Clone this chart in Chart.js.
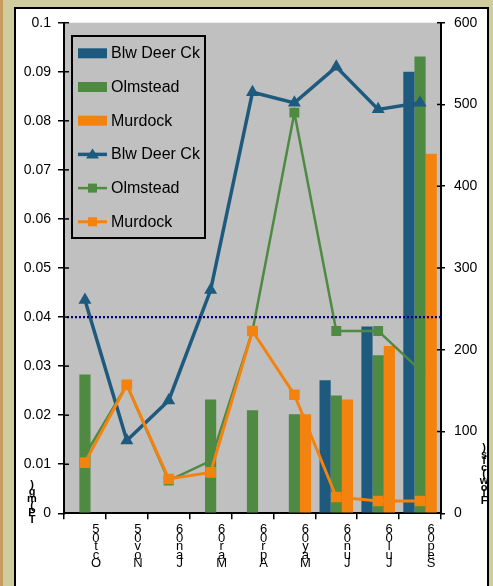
<!DOCTYPE html>
<html><head><meta charset="utf-8">
<script src="https://cdn.jsdelivr.net/npm/chart.js@4.4.0/dist/chart.umd.min.js"></script>
<style>html,body{margin:0;padding:0;background:#CFCC9E;} #wrap{width:493px;height:586px;position:relative;}</style>
</head><body><div id="wrap"><canvas id="c" width="493" height="586"></canvas></div>
<script>
const categories = ['Oct05','Nov05','Jan06','Mar06','Apr06','May06','Jun06','Jul06','Sep06'];
const seriesNames = ['Blw Deer Ck','Olmstead','Murdock'];
// TP bars (left axis, mg/L)
const tpBlwDeerCk = [null,null,null,null,null,null,0.0271,0.0381,0.0900];
const tpOlmstead  = [0.0283,null,null,0.0232,0.0210,0.0202,0.0240,0.0322,0.0931];
const tpMurdock   = [null,null,null,null,null,0.0202,0.0232,0.0341,0.0733];
// Flow lines (right axis, cfs)
const flowBlwDeerCk = [261,89,138,273,515,502,546,494,502];
const flowOlmstead  = [71,157,40,64,223,490,223,223,175];
const flowMurdock   = [62,157,42,50,223,145,20,15,15];
const tpStandard = 0.04;
const leftTitle = 'TP (mg)';
const rightTitle = 'Flow (cfs)';
const leftTicks = {min:0, max:0.1, step:0.01};
const rightTicks = {min:0, max:600, step:100};

const C_BLUE='#1E5A7E', C_GREEN='#4E8A42', C_ORANGE='#F4820E';
const FONT='"Liberation Sans", Arial, sans-serif';

const framePlugin = {
  id:'frame',
  beforeDraw(chart){
    const ctx=chart.ctx, a=chart.chartArea;
    ctx.save();
    ctx.fillStyle='#CFCC9E'; ctx.fillRect(0,0,493,586);
    ctx.fillStyle='#C89B5E'; ctx.fillRect(0,0,3,586);
    ctx.fillStyle='#FFFFFF'; ctx.fillRect(15,8,473,600);
    ctx.strokeStyle='#000'; ctx.lineWidth=2; ctx.strokeRect(15,8,473,600);
    ctx.fillStyle='#C0C0C0'; ctx.fillRect(a.left,a.top,a.right-a.left,a.bottom-a.top);
    ctx.restore();
  },
  afterDatasetsDraw(chart){
    const ctx=chart.ctx, a=chart.chartArea, y=chart.scales.y;
    const py=y.getPixelForValue(tpStandard);
    ctx.save();
    ctx.strokeStyle='#000080'; ctx.lineWidth=2.2; ctx.setLineDash([2,2]);
    ctx.beginPath(); ctx.moveTo(a.left-1,py); ctx.lineTo(a.right+2,py); ctx.stroke();
    ctx.setLineDash([]);
    // inner tick marks
    ctx.strokeStyle='#000'; ctx.lineWidth=1.5;
    y.ticks.forEach((t,i)=>{const p=y.getPixelForTick(i); ctx.beginPath(); ctx.moveTo(a.left,p); ctx.lineTo(a.left+5,p); ctx.stroke();});
    const y1=chart.scales.y1;
    y1.ticks.forEach((t,i)=>{const p=y1.getPixelForTick(i); ctx.beginPath(); ctx.moveTo(a.right,p); ctx.lineTo(a.right-4,p); ctx.stroke();});
    // legend
    const lx=72, ly=36, lw=133, lh=202;
    ctx.fillStyle='#C0C0C0'; ctx.fillRect(lx,ly,lw,lh);
    ctx.strokeStyle='#000'; ctx.lineWidth=2; ctx.strokeRect(lx,ly,lw,lh);
    const order=[0,1,2,3,4,5];
    ctx.font='16px '+FONT; ctx.textBaseline='middle'; ctx.textAlign='left';
    order.forEach((di,k)=>{
      const ds=chart.data.datasets[di];
      const cy=53.3+k*33.7;
      if(ds.type==='bar'){
        ctx.fillStyle=ds.backgroundColor; ctx.fillRect(78,cy-5,29,10);
      } else {
        ctx.strokeStyle=ds.borderColor; ctx.lineWidth=ds.borderWidth;
        ctx.beginPath(); ctx.moveTo(78,cy); ctx.lineTo(107,cy); ctx.stroke();
        ctx.fillStyle=ds.pointBackgroundColor;
        if(ds.pointStyle==='triangle'){
          ctx.beginPath(); ctx.moveTo(92.5,cy-6); ctx.lineTo(99,cy+4); ctx.lineTo(86,cy+4); ctx.closePath(); ctx.fill();
        } else { ctx.fillRect(88,cy-4.5,9,9); }
      }
      ctx.fillStyle='#000'; ctx.fillText(ds.label,111,cy+0.5);
    });
    // axis titles (stacked characters)
    ctx.font='bold 11px '+FONT; ctx.textAlign='center'; ctx.fillStyle='#000';
    const lc=leftTitle.replace(/ /g,'').split('').reverse();
    lc.forEach((ch,i)=>ctx.fillText(ch,32,485+i*7));
    const rc=rightTitle.replace(/ /g,'').split('').reverse();
    rc.forEach((ch,i)=>ctx.fillText(ch,484,448+i*6.6));
    ctx.restore();
  }
};

const barBase={type:'bar', yAxisID:'y', categoryPercentage:0.8, barPercentage:1.0, order:10, borderWidth:0};
const lineBase={type:'line', yAxisID:'y1', fill:false, tension:0, pointBorderWidth:0};

new Chart(document.getElementById('c'),{
  data:{
    labels:categories,
    datasets:[
      {...barBase, label:seriesNames[0], data:tpBlwDeerCk, backgroundColor:C_BLUE},
      {...barBase, label:seriesNames[1], data:tpOlmstead, backgroundColor:C_GREEN},
      {...barBase, label:seriesNames[2], data:tpMurdock, backgroundColor:C_ORANGE},
      {...lineBase, label:seriesNames[0], data:flowBlwDeerCk, borderColor:C_BLUE, backgroundColor:C_BLUE, pointBackgroundColor:C_BLUE, pointBorderColor:C_BLUE, borderWidth:3.5, pointStyle:'triangle', pointRadius:7.5, order:3},
      {...lineBase, label:seriesNames[1], data:flowOlmstead, borderColor:C_GREEN, backgroundColor:C_GREEN, pointBackgroundColor:C_GREEN, pointBorderColor:C_GREEN, borderWidth:2.5, pointStyle:'rect', pointRadius:7, order:2},
      {...lineBase, label:seriesNames[2], data:flowMurdock, borderColor:C_ORANGE, backgroundColor:C_ORANGE, pointBackgroundColor:C_ORANGE, pointBorderColor:C_ORANGE, borderWidth:3, pointStyle:'rect', pointRadius:7.5, order:1}
    ]
  },
  options:{
    responsive:false, animation:false, devicePixelRatio:1,
    layout:{padding:{left:0,right:0,top:22.7,bottom:0}},
    plugins:{legend:{display:false}, tooltip:{enabled:false}},
    scales:{
      x:{
        offset:true,
        grid:{display:true, drawOnChartArea:false, drawTicks:true, tickLength:6, color:'#000', lineWidth:1.5, offset:true},
        border:{display:true, color:'#000', width:2},
        ticks:{font:{family:FONT,size:13,lineHeight:0.66}, color:'#000', maxRotation:0, minRotation:0, autoSkip:false, labelOffset:11, padding:6,
          callback:(v,i)=>categories[i].split('').reverse()},
        afterFit:(s)=>{s.height=586-513.3;}
      },
      y:{
        position:'left', min:leftTicks.min, max:leftTicks.max,
        grid:{display:true, drawOnChartArea:false, drawTicks:true, tickLength:6, color:'#000', lineWidth:1.5},
        border:{display:true, color:'#000', width:2},
        ticks:{stepSize:leftTicks.step, font:{family:FONT,size:14}, color:'#000', padding:7,
          callback:(v)=>String(Number(v.toFixed(2)))},
        afterFit:(s)=>{s.width=64;}
      },
      y1:{
        position:'right', min:rightTicks.min, max:rightTicks.max,
        grid:{display:true, drawOnChartArea:false, drawTicks:true, tickLength:4, color:'#000', lineWidth:1.5},
        border:{display:true, color:'#000', width:2},
        ticks:{stepSize:rightTicks.step, font:{family:FONT,size:14}, color:'#000', padding:9},
        afterFit:(s)=>{s.width=493-441;}
      }
    }
  },
  plugins:[framePlugin]
});
</script></body></html>
